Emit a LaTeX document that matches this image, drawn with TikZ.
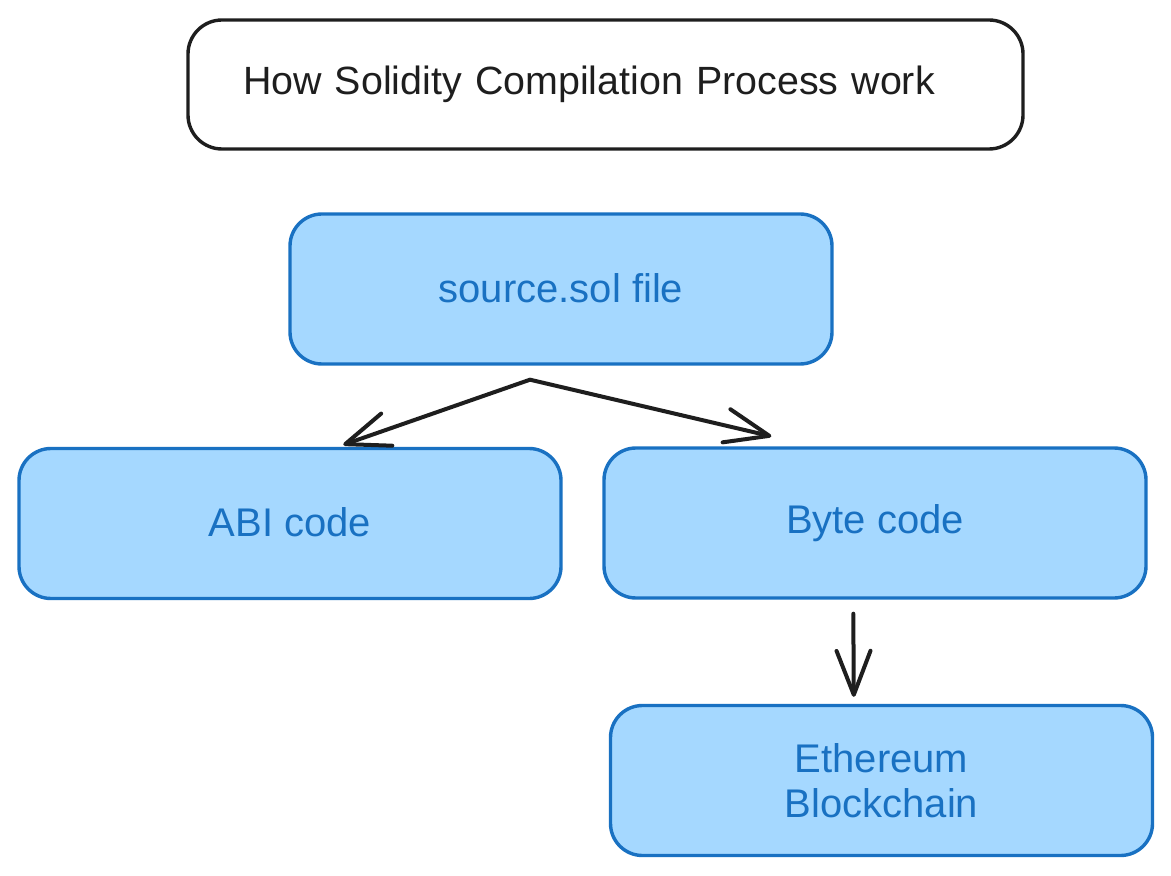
\documentclass[tikz,border=0pt]{standalone}
\usepackage{fontspec}
\setmainfont{Liberation Sans}
\usetikzlibrary{arrows.meta,calc}
\definecolor{boxfill}{HTML}{A5D8FF}
\definecolor{boxline}{HTML}{1971C2}
\definecolor{ink}{HTML}{1E1E1E}
\tikzset{
  bluebox/.style={draw=boxline, fill=boxfill, line width=1.7pt, rounded corners=16pt,
    minimum width=271pt, minimum height=75pt, text=boxline, align=center,
    font=\fontsize{20pt}{22.5pt}\selectfont, inner sep=0pt},
  titlebox/.style={draw=ink, line width=1.7pt, rounded corners=17pt,
    minimum width=417.5pt, minimum height=64.5pt, text=ink, align=left,
    text width=362.5pt, inner xsep=27.5pt, inner ysep=0pt,
    font=\fontsize{19.7pt}{24pt}\selectfont},
  flow/.style={draw=ink, line width=2pt, line cap=round,
    -{Straight Barb[length=22pt,width=17pt,line cap=round,line join=round]}}
}
\begin{document}
\begin{tikzpicture}[x=0.5pt,y=-0.5pt]
\useasboundingbox (0,0) rectangle (1171,876);
\node[titlebox] (title) at (605.5,84.5) {\raisebox{4pt}{How Solidity Compilation Process work}};
\node[bluebox] (src) at (561,289) {\raisebox{0.5pt}{source.sol file}};
\node[bluebox] (abi) at (290,523.5) {\raisebox{1pt}{ABI code}};
\node[bluebox] (byte) at (875,523) {Byte code};
\node[bluebox] (eth) at (881.5,780.5) {Ethereum\\Blockchain};
\coordinate (fork) at ($(src.south)+(-31,14)$);
\coordinate (abiin) at ($(abi.north west)+(326,-2)$);
\coordinate (bytein) at ($(byte.north west)+(169,-10)$);
\coordinate (byteout) at ($(byte.south west)+(251,14)$);
\coordinate (ethin) at ($(eth.north west)+(245,-7)$);
\draw[flow] (fork) -- (abiin);
\draw[flow] (fork) -- (bytein);
\draw[flow] (byteout) -- (ethin);
\end{tikzpicture}
\end{document}
